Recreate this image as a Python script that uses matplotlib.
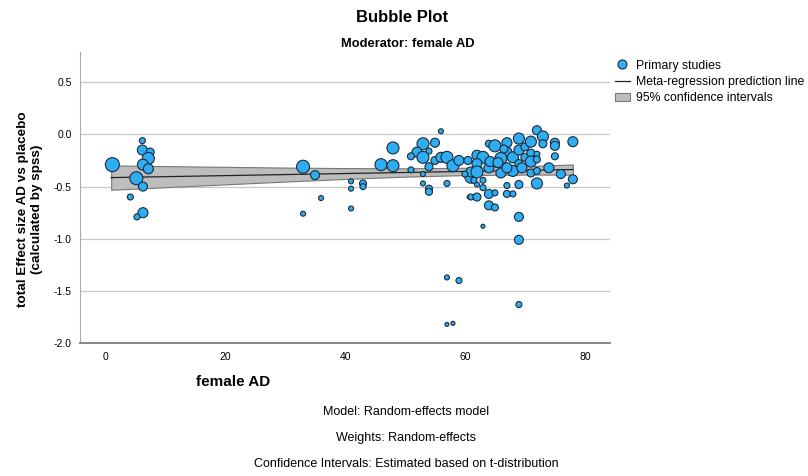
import matplotlib.pyplot as plt
import numpy as np
from matplotlib.lines import Line2D
from matplotlib.patches import Patch

plt.rcParams['font.family'] = ['Liberation Sans', 'DejaVu Sans']

# primary studies: moderator value, effect size, weight (relative bubble size)
female_ad = [1.2, 6.2, 6.2, 7.5, 7.2, 6.3, 7.2, 5.2, 6.3, 4.2, 6.3, 5.3,
             33, 35, 36, 33, 41, 41, 41, 43, 43, 46, 48, 48,
             56, 53, 55, 54, 52, 51, 53, 55, 54, 51, 53, 53, 54, 54,
             56, 57, 58, 59, 57, 61, 60.7,
             62, 63, 62, 61, 62, 64, 64, 65, 67, 69, 67, 66, 68, 69, 66, 68, 69,
             62, 63, 61, 62, 64, 65, 64, 65, 67, 67, 68, 69, 69, 63,
             64.2, 67, 60.5, 65.5, 70, 70, 66.5, 60, 63, 61.5,
             72, 73, 71, 73, 75, 75, 78, 71, 72, 75, 71, 72, 69.5, 74, 71, 72,
             76, 78, 77, 72,
             69, 57, 59, 69, 57, 58]
effect = [-0.29, -0.06, -0.15, -0.17, -0.23, -0.29, -0.33, -0.42, -0.50, -0.60, -0.75, -0.79,
          -0.31, -0.39, -0.61, -0.76, -0.45, -0.52, -0.71, -0.47, -0.50, -0.29, -0.30, -0.13,
          0.03, -0.09, -0.08, -0.16, -0.17, -0.21, -0.22, -0.25, -0.31, -0.34, -0.38, -0.47, -0.52, -0.55,
          -0.22, -0.22, -0.30, -0.25, -0.47, -0.41, -0.60,
          -0.20, -0.22, -0.28, -0.36, -0.36, -0.32, -0.09, -0.11, -0.08, -0.04, -0.17, -0.23, -0.22, -0.15, -0.37, -0.35, -0.28,
          -0.48, -0.51, -0.60, -0.60, -0.57, -0.56, -0.68, -0.70, -0.49, -0.57, -0.57, -0.48, -0.79, -0.88,
          -0.26, -0.32, -0.25, -0.27, -0.12, -0.22, -0.14, -0.38, -0.44, -0.44,
          0.04, -0.02, -0.07, -0.09, -0.08, -0.11, -0.07, -0.18, -0.19, -0.21, -0.26, -0.24, -0.32, -0.32, -0.37, -0.35,
          -0.38, -0.43, -0.49, -0.47,
          -1.01, -1.37, -1.40, -1.63, -1.82, -1.81]
weight = [7, 3, 5, 4, 6, 5.5, 5, 6.5, 4.5, 3, 5, 3,
          6.5, 4.5, 2.5, 2.5, 2.5, 2.5, 2.5, 3.5, 3, 6, 6, 6,
          2.5, 6, 4.5, 3, 5, 3.5, 6, 4, 4, 3, 2.5, 2.5, 3.5, 3.5,
          5, 6, 6, 5, 3, 6, 2,
          5, 6, 5, 5, 6, 5, 3.5, 6, 5, 5.5, 5, 6, 5.5, 5, 5, 5.5, 4,
          2.5, 3, 3, 4, 4.5, 3, 4.5, 3.5, 3, 3.5, 3, 4, 4.5, 2,
          5, 5, 4, 5, 4, 4, 4, 3, 3, 3,
          4.5, 5.5, 5.5, 4, 4.5, 4.5, 5, 4, 3, 3.5, 5.5, 3.5, 5, 5, 4, 3.5,
          4.5, 4.5, 2.5, 5.5,
          4.5, 2.5, 3, 3, 2, 2]

# meta-regression prediction line and 95% CI band
pred_x = [1, 10, 20, 30, 40, 50, 60, 70, 78]
pred_y = [-0.414, -0.405, -0.395, -0.385, -0.375, -0.365, -0.355, -0.345, -0.337]
ci_lo = [-0.531, -0.506, -0.479, -0.452, -0.427, -0.405, -0.390, -0.385, -0.386]
ci_hi = [-0.297, -0.304, -0.311, -0.318, -0.323, -0.325, -0.320, -0.305, -0.288]

fig = plt.figure(figsize=(8.08, 4.76), dpi=100)
ax = fig.add_axes([0.099, 0.279, 0.656, 0.612])

sizes = (np.array(weight) * 2 * 0.72) ** 2
ax.fill_between(pred_x, ci_lo, ci_hi, color='#bdbdbd', edgecolor='#777777', linewidth=0.8, zorder=2)
ax.plot(pred_x, pred_y, color='#222222', linewidth=0.9, zorder=3)
ax.scatter(female_ad, effect, s=sizes, color='#2eadf3', edgecolors='#1c2b3a', linewidths=0.8, zorder=4)

ax.set_xlim(-4.2, 84.2)
ax.set_ylim(-2.0, 0.79)
ax.set_xticks([0, 20, 40, 60, 80])
ax.set_yticks([0.5, 0.0, -0.5, -1.0, -1.5, -2.0])
ax.set_yticklabels(['0.5', '0.0', '-0.5', '-1.0', '-1.5', '-2.0'])
ax.tick_params(length=0, labelsize=7.5, pad=6)
ax.yaxis.grid(True, color='#c8c8c8', linewidth=0.9)
ax.set_axisbelow(True)
for s in ['top', 'right']:
    ax.spines[s].set_visible(False)
ax.spines['left'].set_color('#aaaaaa')
ax.spines['bottom'].set_color('#888888')
ax.spines['bottom'].set_linewidth(1.4)

ax.set_ylabel('total Effect size AD vs placebo\n(calculated by spss)', fontsize=9.7,
              fontweight='bold')
ax.yaxis.set_label_coords(-0.07, 0.46)

fig.text(0.497, 0.963, 'Bubble Plot', ha='center', va='center', fontsize=12, fontweight='bold')
fig.text(0.505, 0.907, 'Moderator: female AD', ha='center', va='center', fontsize=9.3, fontweight='bold')
fig.text(0.289, 0.197, 'female AD', ha='center', va='center', fontsize=11, fontweight='bold')
fig.text(0.503, 0.134, 'Model: Random-effects model', ha='center', va='center', fontsize=9)
fig.text(0.503, 0.080, 'Weights: Random-effects', ha='center', va='center', fontsize=9)
fig.text(0.503, 0.025, 'Confidence Intervals: Estimated based on t-distribution',
         ha='center', va='center', fontsize=9)

handles = [Line2D([], [], marker='o', linestyle='none', markersize=6.5, markerfacecolor='#2eadf3',
                  markeredgecolor='#1c2b3a', markeredgewidth=0.8),
           Line2D([], [], color='#222222', linewidth=0.9),
           Patch(facecolor='#bdbdbd', edgecolor='#777777', linewidth=0.8)]
labels = ['Primary studies', 'Meta-regression prediction line', '95% confidence intervals']
fig.legend(handles, labels, loc='upper left', bbox_to_anchor=(0.755, 0.885), frameon=False,
           fontsize=8.8, handlelength=1.2, handletextpad=0.5, labelspacing=0.35, borderaxespad=0)

fig.savefig('out.png', dpi=100)
